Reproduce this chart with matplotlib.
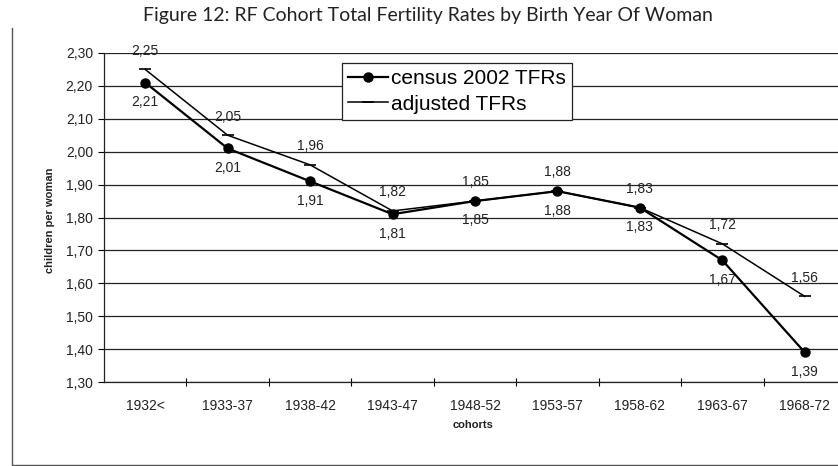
"""
RF cohort total fertility rates by birth year of woman (Figure 12 redraw).
"""

import matplotlib
matplotlib.use('Agg')
import matplotlib.pyplot as plt
from matplotlib.lines import Line2D
from matplotlib.ticker import FixedLocator, FuncFormatter
import numpy as np

cohorts = ['1932<', '1933-37', '1938-42', '1943-47', '1948-52',
           '1953-57', '1958-62', '1963-67', '1968-72']
census_tfr = [2.21, 2.01, 1.91, 1.81, 1.85, 1.88, 1.83, 1.67, 1.39]
adjusted_tfr = [2.25, 2.05, 1.96, 1.82, 1.85, 1.88, 1.83, 1.72, 1.56]


def comma(v, pos=None):
    return f'{v:.2f}'.replace('.', ',')


def main():
    plt.rcParams['font.family'] = ['Liberation Sans', 'DejaVu Sans']

    W, H = 838, 466
    fig = plt.figure(figsize=(W / 100, H / 100), dpi=100)
    # axes box in pixel terms: left 104, right 846 (runs off the edge), top 53, bottom 382
    ax = fig.add_axes([104 / W, 1 - 382 / H, 742 / W, (382 - 53) / H])

    x = np.arange(len(cohorts))
    ax.plot(x, census_tfr, color='black', lw=1.6, marker='o', ms=6.5,
            label='census 2002 TFRs', zorder=4)
    ax.plot(x, adjusted_tfr, color='black', lw=1.1, marker='_', ms=9,
            mew=1.2, label='adjusted TFRs', zorder=3)

    # value labels: census below, adjusted above
    for xi, c, a in zip(x, census_tfr, adjusted_tfr):
        ax.annotate(comma(c), (xi, c), xytext=(0, -14), textcoords='offset points',
                    ha='center', va='center', fontsize=10, color='#222222')
        ax.annotate(comma(a), (xi, a), xytext=(0, 13.5), textcoords='offset points',
                    ha='center', va='center', fontsize=10, color='#222222')

    ax.set_xlim(-0.5, len(cohorts) - 0.5)
    ax.set_ylim(1.30, 2.30)
    ax.set_yticks(np.arange(1.30, 2.31, 0.10))
    ax.yaxis.set_major_formatter(FuncFormatter(comma))
    ax.yaxis.grid(True, color='#222222', lw=0.9)
    ax.set_axisbelow(True)

    # category ticks sit between the cohorts, labels in the middle
    ax.xaxis.set_major_locator(FixedLocator(np.arange(0.5, len(cohorts) - 0.5, 1)))
    ax.xaxis.set_major_formatter(FuncFormatter(lambda v, p: ''))
    ax.xaxis.set_minor_locator(FixedLocator(x))
    ax.set_xticklabels(cohorts, minor=True)
    ax.tick_params(axis='x', which='major', direction='inout', length=6, width=0.8)
    ax.tick_params(axis='x', which='minor', length=0, pad=12, labelsize=10,
                   labelcolor='#222222')
    ax.tick_params(axis='y', direction='out', length=4, width=0.8, pad=4,
                   labelsize=10, labelcolor='#222222')

    for side in ['top', 'right']:
        ax.spines[side].set_visible(False)
    for side in ['left', 'bottom']:
        ax.spines[side].set_color('#222222')
        ax.spines[side].set_linewidth(0.9)

    fig.text(473 / W, 1 - 425 / H, 'cohorts', ha='center', va='center',
             fontsize=8, fontweight='bold', color='#222222')
    fig.text(50 / W, 1 - 220 / H, 'children per woman', ha='center', va='center',
             rotation=90, fontsize=8, fontweight='bold', color='#222222')

    leg = ax.legend(loc='upper left', bbox_to_anchor=(342 / W, 1 - 63 / H),
                    bbox_transform=fig.transFigure, borderaxespad=0,
                    fontsize=15, handlelength=1.9, handletextpad=0.15,
                    labelspacing=0.3, borderpad=0.3, fancybox=False,
                    framealpha=1, edgecolor='#222222')
    leg.get_frame().set_linewidth(0.9)

    fig.suptitle('Figure 12: RF Cohort Total Fertility Rates by Birth Year Of Woman',
                 x=428 / W, y=1 - 15 / H, va='center', fontsize=14,
                 family=['Lato', 'DejaVu Sans'], color='#222222')

    # outer chart frame (left and bottom edges visible in the scan)
    fig.add_artist(Line2D([12 / W, 12 / W, 1.0], [1 - 28 / H, 1 - 465 / H, 1 - 465 / H],
                          transform=fig.transFigure, color='#555555', lw=1))

    fig.savefig('out.png', dpi=100)


if __name__ == '__main__':
    main()
